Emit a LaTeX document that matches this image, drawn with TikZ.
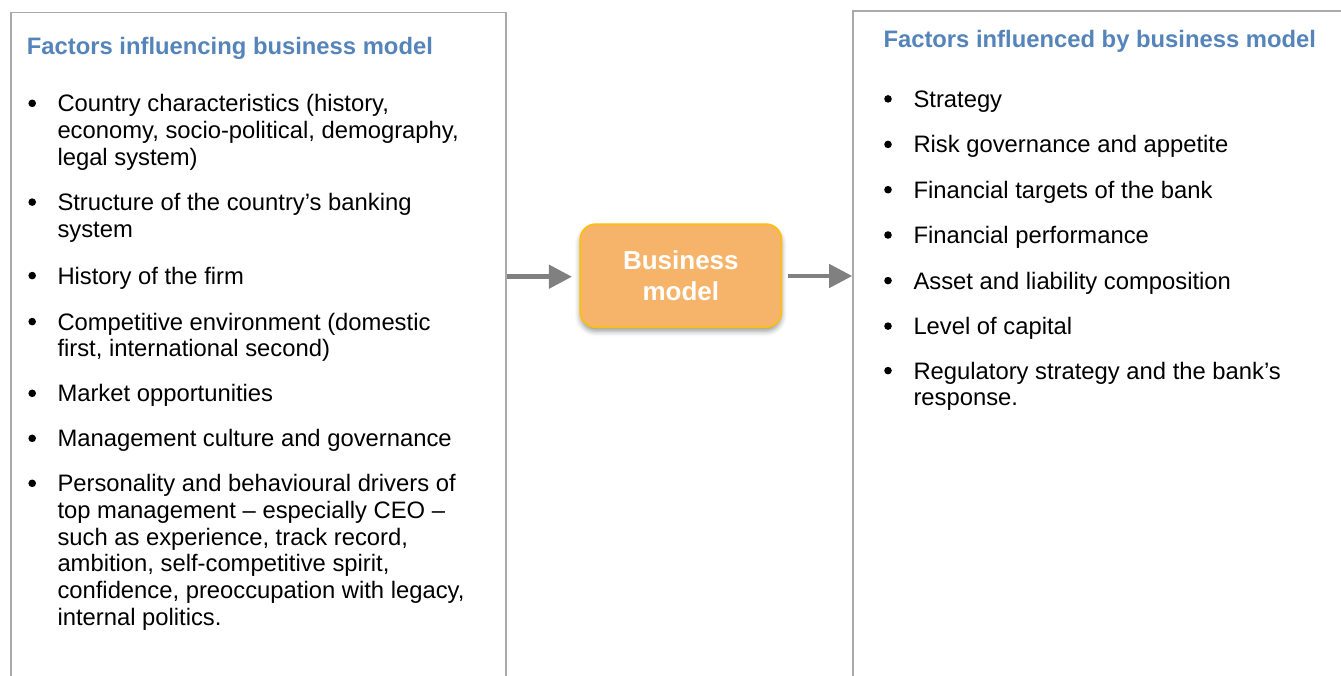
\documentclass[tikz,border=0pt]{standalone}
\usepackage{fontspec}
\setmainfont{Liberation Sans}
\usetikzlibrary{arrows.meta,shadows.blur}
\definecolor{framegray}{RGB}{170,170,170}
\definecolor{headblue}{RGB}{84,132,186}
\definecolor{bizfill}{RGB}{245,180,106}
\definecolor{bizedge}{RGB}{255,192,0}
\definecolor{flowgray}{RGB}{128,128,128}

% one line of a bulleted list: name, x, baseline, text
\newcommand\listline[4]{\node[body] (#1) at (#2,#3) {#4};}
% bullet dot placed against a baseline: x, baseline
\newcommand\listdot[2]{\fill[black] (#1,#2-8.4) circle (3.8);}

\begin{document}
\begin{tikzpicture}[x=1pt,y=-1pt,
  panel/.style={draw=framegray,line width=1.6pt,inner sep=0pt},
  heading/.style={anchor=base west,inner sep=0pt,text=headblue,
    font=\fontsize{23.8}{26.7}\selectfont\bfseries},
  body/.style={anchor=base west,inner sep=0pt,
    font=\fontsize{23.8}{26.7}\selectfont},
  bizbox/.style={draw=bizedge,line width=1.5pt,fill=bizfill,
    rounded corners=16pt,minimum width=201.7pt,minimum height=103.3pt,
    align=center,text=white,font=\fontsize{26}{30.7}\selectfont\bfseries,
    blur shadow={shadow xshift=0pt,shadow yshift=-4pt,
      shadow blur radius=5pt,shadow opacity=40}},
  flow/.style={draw=flowgray,line width=4.5pt,
    -{Triangle[length=23pt,width=23pt]}},
]
\useasboundingbox (0,0) rectangle (1341,675);
\clip (0,0) rectangle (1341,675);

% the two side panels (they run on past the lower and right edges)
\node[panel,minimum width=495pt,minimum height=687.5pt] (leftpanel) at (258.5,356.25) {};
\node[panel,minimum width=512pt,minimum height=689pt] (rightpanel) at (1109,355.5) {};

% central box
\node[bizbox] (biz) at (680.85,275.65) {Business\\model};

% connectors
\draw[flow] (leftpanel.east |- 0,276.7) -- ([xshift=-7.3pt]biz.west |- 0,276.7);
\draw[flow] ([xshift=5.6pt]biz.east |- 0,276) -- (rightpanel.west |- 0,276);

% left panel
\node[heading] (lefthead) at (26.7,54) {Factors influencing business model};

\listdot{32.2}{111.7}
\listline{l1a}{57.3}{111.7}{Country characteristics (history,}
\listline{l1b}{57.3}{138.4}{economy, socio-political, demography,}
\listline{l1c}{57.3}{165.1}{legal system)}

\listdot{32.2}{210.5}
\listline{l2a}{57.3}{210.5}{Structure of the country’s banking}
\listline{l2b}{57.3}{237.2}{system}

\listdot{32.2}{284}
\listline{l3a}{57.3}{284}{History of the firm}

\listdot{32.2}{330}
\listline{l4a}{57.3}{330}{Competitive environment (domestic}
\listline{l4b}{57.3}{356.7}{first, international second)}

\listdot{32.2}{401.7}
\listline{l5a}{57.3}{401.7}{Market opportunities}

\listdot{32.2}{446.7}
\listline{l6a}{57.3}{446.7}{Management culture and governance}

\listdot{32.2}{491.7}
\listline{l7a}{57.3}{491.7}{Personality and behavioural drivers of}
\listline{l7b}{57.3}{518.4}{top management – especially CEO –}
\listline{l7c}{57.3}{545.1}{such as experience, track record,}
\listline{l7d}{57.3}{571.8}{ambition, self-competitive spirit,}
\listline{l7e}{57.3}{598.5}{confidence, preoccupation with legacy,}
\listline{l7f}{57.3}{625.2}{internal politics.}

% right panel
\node[heading] (righthead) at (883.3,47.3) {Factors influenced by business model};

\listdot{888}{107.3}
\listline{r1}{913.3}{107.3}{Strategy}
\listdot{888}{152.8}
\listline{r2}{913.3}{152.8}{Risk governance and appetite}
\listdot{888}{198.1}
\listline{r3}{913.3}{198.1}{Financial targets of the bank}
\listdot{888}{243.4}
\listline{r4}{913.3}{243.4}{Financial performance}
\listdot{888}{289}
\listline{r5}{913.3}{289}{Asset and liability composition}
\listdot{888}{334.5}
\listline{r6}{913.3}{334.5}{Level of capital}
\listdot{888}{379}
\listline{r7a}{913.3}{379}{Regulatory strategy and the bank’s}
\listline{r7b}{913.3}{405.7}{response.}
\end{tikzpicture}
\end{document}
